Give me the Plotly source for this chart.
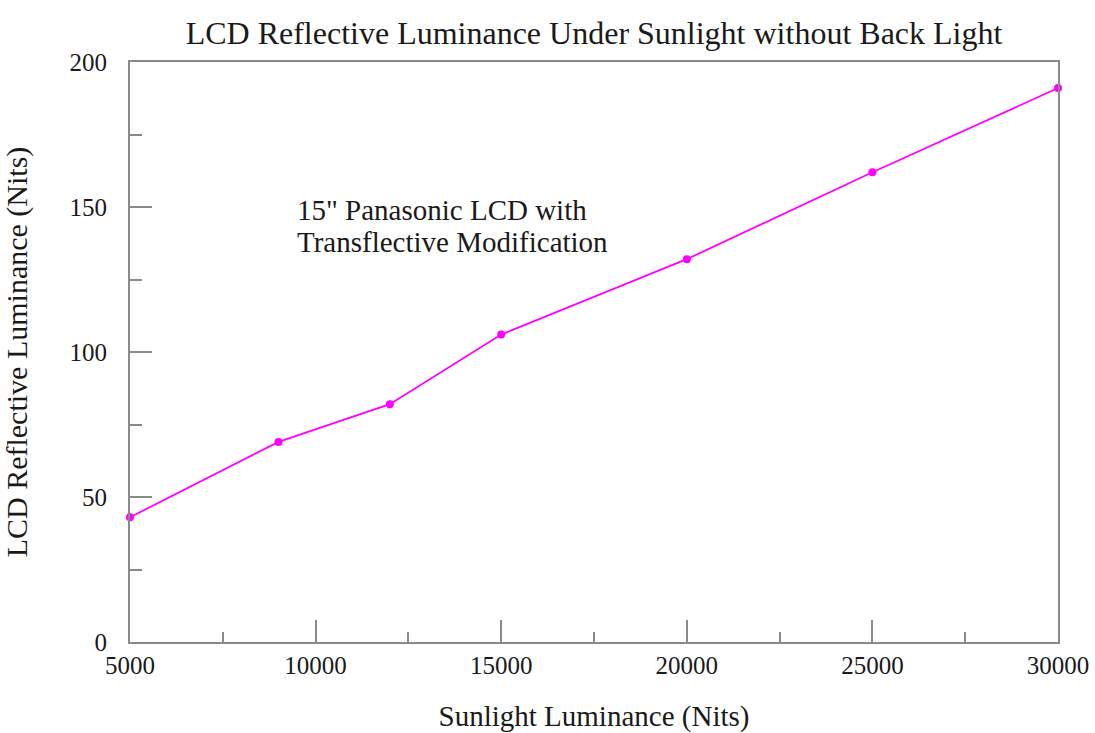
import plotly.graph_objects as go

# Sunlight luminance (Nits) and measured reflective luminance of the LCD (Nits)
sunlight_nits = [5000, 9000, 12000, 15000, 20000, 25000, 30000]
reflective_nits = [43, 69, 82, 106, 132, 162, 191]

x_tick_vals = [5000, 10000, 15000, 20000, 25000, 30000]
y_tick_vals = [0, 50, 100, 150, 200]

note_lines = ["15\" Panasonic LCD with", "Transflective Modification"]

SERIF = "Liberation Serif"
AXIS_GRAY = "#8a8a8a"
TEXT = "#1a1a1a"

fig = go.Figure()
fig.add_trace(go.Scatter(
    x=sunlight_nits,
    y=reflective_nits,
    mode="lines+markers",
    line=dict(color="#ff00ff", width=1.8),
    marker=dict(color="#ff00ff", size=8),
    cliponaxis=False,
    showlegend=False,
))

fig.update_layout(
    width=1095,
    height=733,
    margin=dict(l=130, r=37, t=62, b=91),
    paper_bgcolor="white",
    plot_bgcolor="white",
    font=dict(family=SERIF, color=TEXT, size=25),
    title=dict(
        text="LCD Reflective Luminance Under Sunlight without Back Light",
        x=0.5, xref="paper", y=0.955, yref="container",
        xanchor="center", yanchor="middle",
        font=dict(family=SERIF, size=32, color=TEXT),
    ),
    xaxis=dict(
        range=[5000, 30000],
        automargin=False,
        tickvals=x_tick_vals,
        ticktext=[str(v) for v in x_tick_vals],
        ticks="inside", ticklen=22, tickwidth=1.5, tickcolor=AXIS_GRAY,
        minor=dict(tick0=7500, dtick=5000, ticks="inside", ticklen=10,
                   tickwidth=1.5, tickcolor=AXIS_GRAY, showgrid=False),
        showline=True, linecolor=AXIS_GRAY, linewidth=2, mirror=True,
        showgrid=False, zeroline=False,
        ticklabelstandoff=0,
        tickfont=dict(family=SERIF, size=25, color=TEXT),
        title=dict(text="Sunlight Luminance (Nits)", standoff=36,
                   font=dict(family=SERIF, size=29, color=TEXT)),
    ),
    yaxis=dict(
        range=[0, 200],
        automargin=False,
        tickvals=y_tick_vals,
        ticktext=[str(v) for v in y_tick_vals],
        ticks="inside", ticklen=22, tickwidth=1.5, tickcolor=AXIS_GRAY,
        minor=dict(tick0=25, dtick=50, ticks="inside", ticklen=12,
                   tickwidth=1.5, tickcolor=AXIS_GRAY, showgrid=False),
        showline=True, linecolor=AXIS_GRAY, linewidth=2, mirror=True,
        showgrid=False, zeroline=False,
        ticklabelstandoff=16,
        tickfont=dict(family=SERIF, size=25, color=TEXT),
        title=dict(text="LCD Reflective Luminance (Nits)", standoff=34,
                   font=dict(family=SERIF, size=30, color=TEXT)),
    ),
)

# Two-line note placed inside the plot area
for line_text, y_pos in zip(note_lines, [0.745, 0.69]):
    fig.add_annotation(
        text=line_text,
        xref="paper", yref="paper",
        x=0.178, y=y_pos,
        xanchor="left", yanchor="middle",
        align="left", showarrow=False,
        font=dict(family=SERIF, size=29, color=TEXT),
    )

fig.write_html("out.html")
